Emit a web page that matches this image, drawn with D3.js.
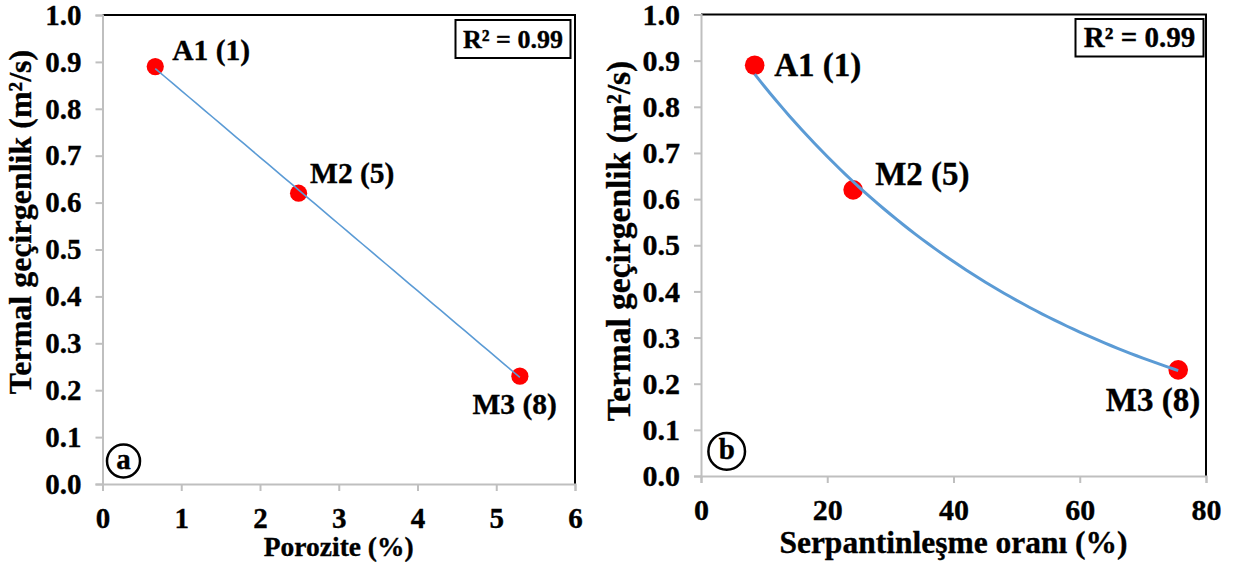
<!DOCTYPE html>
<html>
<head>
<meta charset="utf-8">
<script src="https://cdn.jsdelivr.net/npm/d3@7"></script>
<style>
  body { margin: 0; background: #fff; }
  text { font-family: "Liberation Serif", "Times New Roman", serif; font-weight: bold; fill: #000;
         stroke: #000; stroke-width: 0.35px; }
</style>
</head>
<body>
<svg id="chart" width="1236" height="566"></svg>
<script>
// values
const samples = ["A1 (1)", "M2 (5)", "M3 (8)"];
const porosity = [0.67, 2.49, 5.3];
const serpRatio = [8.5, 24.1, 75.6];
const diffusivity = [0.89, 0.62, 0.23];
const yTicks = [0, 0.1, 0.2, 0.3, 0.4, 0.5, 0.6, 0.7, 0.8, 0.9, 1.0];
const xTicksA = [0, 1, 2, 3, 4, 5, 6];
const xTicksB = [0, 20, 40, 60, 80];
const r2Text = "R² = 0.99";
const yTitle = "Termal geçirgenlik (m²/s)";

const RED = "#ff0000", BLUE = "#5b9bd5", GREY = "#bfbfbf";
const svg = d3.select('#chart');

function drawPanel (opt) {
  const g = svg.append('g');
  const x = d3.scaleLinear().domain(opt.xDomain).range([opt.left, opt.right]);
  const y = d3.scaleLinear().domain([0, 1]).range([opt.bottom, opt.top]);
  const pts = opt.xs.map((v, i) => ({ x: v, y: diffusivity[i], name: samples[i] }));

  // top + right frame
  g.append('path')
    .attr('d', `M${opt.left},${opt.top}H${opt.right}V${opt.bottom}`)
    .attr('fill', 'none').attr('stroke', '#000').attr('stroke-width', 2);

  const yAxis = d3.axisLeft(y).tickValues(yTicks).tickFormat(d3.format('.1f'))
    .tickSize(7).tickPadding(opt.yPad);
  const xAxis = d3.axisBottom(x).tickValues(opt.xTicks).tickFormat(d3.format('d'))
    .tickSize(7).tickPadding(opt.xPad);

  const ya = g.append('g').attr('transform', `translate(${opt.left},0)`).call(yAxis);
  const xa = g.append('g').attr('transform', `translate(0,${opt.bottom})`).call(xAxis);
  [ya, xa].forEach(a => {
    a.attr('font-family', null).attr('font-size', null);
    a.select('.domain').attr('stroke', GREY).attr('stroke-width', 2);
    a.selectAll('.tick line').attr('stroke', GREY).attr('stroke-width', 2);
    a.selectAll('.tick text').attr('font-size', opt.tickSize).attr('fill', '#000')
      .style('font-family', '"Liberation Serif", serif');
  });

  // trend line, fitted from the points
  const n = pts.length;
  let f;
  if (opt.fit === 'linear') {
    const mx = d3.mean(pts, d => d.x), my = d3.mean(pts, d => d.y);
    const b = d3.sum(pts, d => (d.x - mx) * (d.y - my)) / d3.sum(pts, d => (d.x - mx) ** 2);
    const a = my - b * mx;
    f = v => a + b * v;
  } else {
    const mx = d3.mean(pts, d => d.x), ml = d3.mean(pts, d => Math.log(d.y));
    const b = d3.sum(pts, d => (d.x - mx) * (Math.log(d.y) - ml)) / d3.sum(pts, d => (d.x - mx) ** 2);
    const a = Math.exp(ml - b * mx);
    f = v => a * Math.exp(b * v);
  }
  const xs = d3.scaleLinear().domain([pts[0].x, pts[n - 1].x]).ticks(60);
  xs.unshift(pts[0].x);
  xs.push(pts[n - 1].x);

  g.selectAll('circle.pt').data(pts).enter().append('circle')
    .attr('class', 'pt')
    .attr('cx', d => x(d.x)).attr('cy', d => y(d.y))
    .attr('r', opt.dotR).attr('fill', RED);

  g.append('path')
    .attr('d', d3.line().x(v => x(v)).y(v => y(f(v)))(xs))
    .attr('fill', 'none').attr('stroke', BLUE).attr('stroke-width', opt.lineWidth);

  g.selectAll('text.lbl').data(pts).enter().append('text')
    .attr('class', 'lbl')
    .attr('x', (d, i) => x(d.x) + opt.lblOff[i][0])
    .attr('y', (d, i) => y(d.y) + opt.lblOff[i][1])
    .attr('text-anchor', (d, i) => opt.lblOff[i][2] || 'start')
    .attr('font-size', opt.lblSize)
    .text(d => d.name);

  // R² box
  g.append('rect').attr('x', opt.box[0]).attr('y', opt.box[1])
    .attr('width', opt.box[2]).attr('height', opt.box[3])
    .attr('fill', '#fff').attr('stroke', '#000').attr('stroke-width', 2);
  g.append('text').attr('x', opt.box[0] + opt.box[2] / 2).attr('y', opt.box[1] + opt.box[3] / 2 + 9)
    .attr('text-anchor', 'middle').attr('font-size', opt.boxSize).text(r2Text);

  // panel letter
  g.append('circle').attr('cx', opt.letter[0]).attr('cy', opt.letter[1]).attr('r', opt.letter[2])
    .attr('fill', 'none').attr('stroke', '#000').attr('stroke-width', 2.5);
  g.append('text').attr('x', opt.letter[0]).attr('y', opt.letter[1] + 8)
    .attr('text-anchor', 'middle').attr('font-size', 29).text(opt.letter[3]);

  // axis titles
  g.append('text')
    .attr('transform', `translate(${opt.yTitle[0]},${opt.yTitle[1]}) rotate(-90)`)
    .attr('text-anchor', 'middle').attr('font-size', opt.yTitle[2])
    .text(yTitle);
  g.append('text')
    .attr('x', (opt.left + opt.right) / 2).attr('y', opt.xTitle[1])
    .attr('text-anchor', 'middle').attr('font-size', opt.xTitle[2])
    .text(opt.xTitle[0]);
}

drawPanel({
  xs: porosity, xDomain: [0, 6], xTicks: xTicksA,
  left: 102.5, right: 575, top: 15, bottom: 484,
  yPad: 14, xPad: 16, tickSize: 29,
  fit: 'linear', lineWidth: 1.6, dotR: 8.6,
  lblOff: [[17, -7], [11.5, -10], [37, 38, 'end']], lblSize: 29.5,
  box: [455.5, 20, 115, 38], boxSize: 26,
  letter: [123.5, 461, 16.5, 'a'],
  yTitle: [31, 222, 32],
  xTitle: ['Porozite (%)', 556, 27.5]
});

drawPanel({
  xs: serpRatio, xDomain: [0, 80], xTicks: xTicksB,
  left: 701, right: 1206, top: 14.5, bottom: 476,
  yPad: 14, xPad: 16, tickSize: 30,
  fit: 'exp', lineWidth: 3, dotR: 9.8,
  lblOff: [[19.5, 11], [22, -4.7], [22, 41.6, 'end']], lblSize: 33,
  box: [1075.5, 19, 128, 37.5], boxSize: 29,
  letter: [726.7, 451.4, 18.3, 'b'],
  yTitle: [630, 241, 33.5],
  xTitle: ['Serpantinleşme oranı (%)', 552.6, 31.5]
});
</script>
</body>
</html>
